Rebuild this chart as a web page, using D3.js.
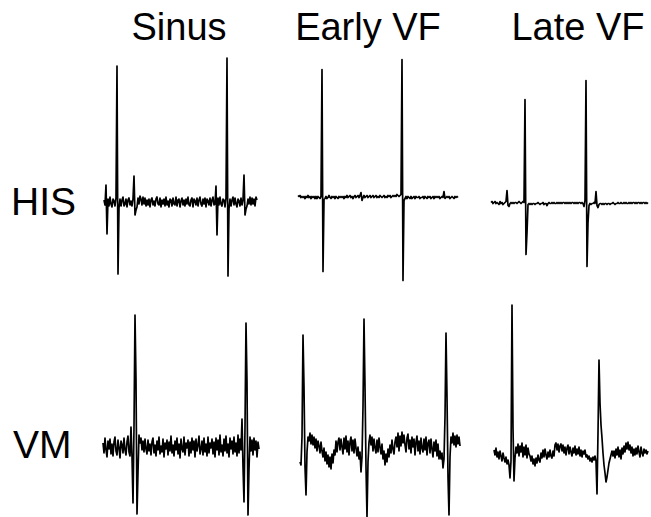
<!DOCTYPE html>
<html>
<head>
<meta charset="utf-8">
<script src="https://cdn.jsdelivr.net/npm/d3@7"></script>
<style>
  body { margin: 0; background: #fff; }
  svg { display: block; }
  text { font-family: Arial, "Liberation Sans", sans-serif; fill: #000; }
</style>
</head>
<body>
<div id="chart"></div>
<script>
// column titles and row labels
const columns = ["Sinus", "Early VF", "Late VF"];
const rows = ["HIS", "VM"];

// traces, one sample per ms, amplitude in arbitrary units (up = positive)
const hisSinus = [
  2,-3,17,-32,3,-4,5,-2,-5,3,
  1,-4,4,136,-72,-6,3,-4,2,5,
  -4,-2,3,-5,2,4,-3,1,-4,3,
  26,-13,-8,-5,4,-2,6,3,-3,5,
  -2,4,-4,2,-3,3,-5,2,4,-3,
  1,-4,3,5,-2,-3,4,-5,2,-2,
  3,-4,5,-3,1,-5,3,2,-4,4,
  -2,-3,5,-4,2,3,-5,1,4,-3,
  2,-4,3,-2,5,-3,-4,2,4,-5,
  3,1,-3,4,-4,2,5,-2,-4,3,
  -2,4,-5,3,1,-3,4,-4,2,5,
  -3,-2,16,-33,4,-3,5,-2,-4,3,
  2,-5,4,144,-74,-7,3,-4,2,5,
  -3,4,-2,-5,3,1,-4,4,-3,2,
  27,-13,-7,-4,3,-2,5,-3,4,-2,
  3,-4,5,2
];
const hisEarly = [
  1,0,1,-1,0,-1,0,-2,0,-1,
  1,-1,0,-2,0,-1,0,-2,0,-2,
  0,-1,-2,0,127,-75,-3,-2,0,-2,
  -1,1,-1,-2,0,-1,0,-2,0,-1,
  -2,0,-1,0,-1,0,-2,0,-1,1,
  -1,0,1,-1,0,-2,0,1,-1,0,
  1,-1,1,4,-4,-1,1,-1,0,1,
  -1,0,1,-1,0,1,-1,0,1,-1,
  0,-1,1,0,-1,0,1,-1,0,-1,
  1,0,1,-1,0,1,0,1,0,2,
  1,0,1,2,137,-84,-4,-2,0,-2,
  0,-1,-2,0,-2,-1,0,-2,0,-1,
  -1,0,-2,-1,-1,0,-2,0,-1,-2,
  0,-1,0,-2,-1,0,-2,0,-1,0,
  -1,0,-2,-1,0,-1,5,-2,-1,0,
  -1,0,-2,-1,0,-1,-2,0,-1,0,
  -1
];
const hisLate = [
  0,1,-1,0,1,-1,0,-1,-2,1,
  -1,0,-2,-1,0,1,12,-3,-4,-1,
  0,-1,0,-1,0,0,-1,0,1,0,
  -1,0,1,0,103,-52,-30,-2,-1,-2,
  -1,-2,-1,-1,-2,-1,-1,0,-1,-2,
  -1,-1,0,-2,-1,-1,-3,-1,0,-1,
  -1,0,-1,0,-1,-1,0,-1,0,-1,
  0,-1,0,0,-1,0,-1,0,-1,0,
  -1,0,0,-1,0,-1,0,-1,0,0,
  -1,0,-1,-4,2,122,-64,-20,-3,-1,
  -2,-1,-1,0,-1,11,-3,-5,-2,-1,
  -1,-2,-1,-2,-1,-1,-2,-1,-1,-2,
  -1,-1,0,-1,-2,-1,-1,0,-1,-1,
  0,-1,-1,0,-1,0,-1,-1,0,-1,
  0,-1,0,0,-1,0,-1,0,0,-1,
  0,-1,0,0,-1,0,-1,0
];
const vmSinus = [
  4,-6,9,-3,-10,6,-2,8,-7,3,
  -9,5,10,-4,-8,7,-1,-11,6,2,
  -6,9,-3,-8,5,11,-5,-9,20,-10,
  -56,20,132,67,-67,-25,12,4,9,-3,
  6,-5,8,-2,-7,7,-4,3,-8,5,
  9,-6,2,-9,6,-3,10,-7,1,-5,
  8,-10,4,-2,7,-8,5,-4,11,-6,
  2,-9,6,-3,9,-7,3,-11,8,-2,
  -5,10,-8,4,-1,7,-9,5,-6,9,
  -3,6,-10,8,-4,2,11,-7,-2,6,
  -8,9,-5,3,-9,10,-6,4,-1,8,
  -7,5,-10,9,-3,7,-8,12,-5,2,
  -9,8,-4,11,-6,3,-10,9,-2,6,
  -7,10,-5,4,-9,12,-6,8,-3,28,
  -20,-55,20,124,65,-68,-22,10,-4,7,
  -8,9,-3,6,-10,5,-2
];
const vmEarly = [
  -15,-18,10,112,60,-20,-48,-5,10,6,
  14,3,12,2,10,-1,8,-4,6,1,
  -6,5,-4,-10,-1,-14,-5,-17,-8,-20,
  -10,-22,-7,-16,-3,-8,6,-5,5,9,
  -3,8,0,-7,9,-2,11,-5,6,-8,
  5,10,-4,7,-6,8,-1,-9,0,-12,
  -5,-25,-10,40,128,60,-20,-70,-15,5,
  12,2,10,-4,8,-1,-6,7,-5,9,
  0,-7,3,-12,-4,-18,-7,-15,-2,-10,
  2,-6,7,-2,-7,5,10,0,14,-4,
  11,1,15,4,12,2,-5,9,13,-2,
  7,-6,10,0,8,-8,5,11,-4,6,
  -7,9,-1,-5,8,-3,10,-8,4,7,
  -6,8,-2,-10,5,-4,7,-9,3,-12,
  -4,-12,-6,-21,-12,30,114,50,-30,-68,
  -10,10,4,14,2,11,0,12,3,10,1
];
const vmLate = [
  3,-2,5,-4,1,-6,2,-3,-8,0,
  -5,-9,-4,-11,-7,-12,-25,-8,148,25,
  -28,-5,6,0,9,-3,7,1,10,-4,
  6,-2,8,-5,5,-1,-3,-8,-3,-11,
  -6,-13,-5,-10,-2,-7,-9,0,-5,3,
  -4,4,-2,-6,1,-4,3,-3,-5,2,
  -3,8,10,3,9,1,7,9,2,8,
  0,6,-2,5,8,-1,6,1,-3,5,
  0,7,-2,4,-1,6,-3,3,-4,2,
  -1,3,-4,-2,-6,-3,-8,-5,-9,-4,
  -7,-3,-8,-41,20,93,50,28,15,0,
  -12,-20,-29,-24,-17,-10,-6,-2,2,-3,
  2,-5,4,-2,6,-4,3,-6,5,-1,
  7,1,10,4,11,3,8,0,6,-3,
  4,-2,5,-1,7,1,-4,6,0,-3,
  4,0,3,-1,2
];

const traces = [
  { row: 0, col: 0, values: hisSinus },
  { row: 0, col: 1, values: hisEarly },
  { row: 0, col: 2, values: hisLate },
  { row: 1, col: 0, values: vmSinus },
  { row: 1, col: 1, values: vmEarly },
  { row: 1, col: 2, values: vmLate }
];

// layout (pixels)
const W = 651, H = 517;
const traceLeft = [[104, 298, 491], [103, 300, 494]];
const rowBase = [[202, 196.5, 202.5], [447, 447, 453]];
const titleX = [179, 368, 578];

const svg = d3.select("#chart").append("svg")
  .attr("width", W)
  .attr("height", H);

svg.selectAll("text.col-title")
  .data(columns)
  .enter()
  .append("text")
  .attr("class", "col-title")
  .attr("x", (d, i) => titleX[i])
  .attr("y", 40)
  .attr("text-anchor", "middle")
  .style("font-size", "38px")
  .text(d => d);

const rowLabelPos = [{ x: 11, y: 215 }, { x: 13, y: 458 }];
svg.selectAll("text.row-label")
  .data(rows)
  .enter()
  .append("text")
  .attr("class", "row-label")
  .attr("x", (d, i) => rowLabelPos[i].x)
  .attr("y", (d, i) => rowLabelPos[i].y)
  .style("font-size", "39px")
  .text(d => d);

traces.forEach(t => {
  const x0 = traceLeft[t.row][t.col];
  const base = rowBase[t.row][t.col];
  const n = t.values.length;

  const x = d3.scaleLinear().domain([0, n - 1]).range([x0, x0 + n - 1]);
  const y = d3.scaleLinear().domain([-100, 100]).range([base + 100, base - 100]);

  const line = d3.line()
    .x((d, i) => x(i))
    .y(d => y(d));

  svg.append("path")
    .datum(t.values)
    .attr("d", line)
    .attr("fill", "none")
    .attr("stroke", "#000")
    .attr("stroke-width", 1.7)
    .attr("stroke-linejoin", "round");
});
</script>
</body>
</html>
